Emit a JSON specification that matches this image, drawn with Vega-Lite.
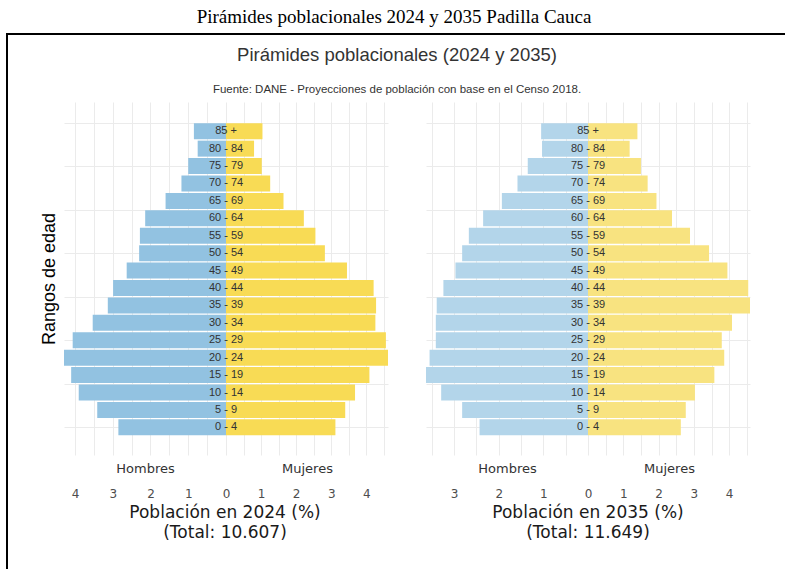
{
 "$schema": "https://vega.github.io/schema/vega-lite/v6.json",
 "padding": {"left": 6, "top": 8, "right": 0, "bottom": 0},
 "background": "white",
 "datasets": {
  "marco": [{}],
  "pob": [
   {"grupo":"0 - 4","orden":0,"anio":2024,"sexo":"Hombres","pct":2.85},
   {"grupo":"5 - 9","orden":1,"anio":2024,"sexo":"Hombres","pct":3.41},
   {"grupo":"10 - 14","orden":2,"anio":2024,"sexo":"Hombres","pct":3.90},
   {"grupo":"15 - 19","orden":3,"anio":2024,"sexo":"Hombres","pct":4.10},
   {"grupo":"20 - 24","orden":4,"anio":2024,"sexo":"Hombres","pct":4.29},
   {"grupo":"25 - 29","orden":5,"anio":2024,"sexo":"Hombres","pct":4.06},
   {"grupo":"30 - 34","orden":6,"anio":2024,"sexo":"Hombres","pct":3.53},
   {"grupo":"35 - 39","orden":7,"anio":2024,"sexo":"Hombres","pct":3.13},
   {"grupo":"40 - 44","orden":8,"anio":2024,"sexo":"Hombres","pct":2.99},
   {"grupo":"45 - 49","orden":9,"anio":2024,"sexo":"Hombres","pct":2.63},
   {"grupo":"50 - 54","orden":10,"anio":2024,"sexo":"Hombres","pct":2.30},
   {"grupo":"55 - 59","orden":11,"anio":2024,"sexo":"Hombres","pct":2.28},
   {"grupo":"60 - 64","orden":12,"anio":2024,"sexo":"Hombres","pct":2.14},
   {"grupo":"65 - 69","orden":13,"anio":2024,"sexo":"Hombres","pct":1.60},
   {"grupo":"70 - 74","orden":14,"anio":2024,"sexo":"Hombres","pct":1.18},
   {"grupo":"75 - 79","orden":15,"anio":2024,"sexo":"Hombres","pct":1.00},
   {"grupo":"80 - 84","orden":16,"anio":2024,"sexo":"Hombres","pct":0.75},
   {"grupo":"85 +","orden":17,"anio":2024,"sexo":"Hombres","pct":0.85},
   {"grupo":"0 - 4","orden":0,"anio":2024,"sexo":"Mujeres","pct":3.12},
   {"grupo":"5 - 9","orden":1,"anio":2024,"sexo":"Mujeres","pct":3.40},
   {"grupo":"10 - 14","orden":2,"anio":2024,"sexo":"Mujeres","pct":3.68},
   {"grupo":"15 - 19","orden":3,"anio":2024,"sexo":"Mujeres","pct":4.09},
   {"grupo":"20 - 24","orden":4,"anio":2024,"sexo":"Mujeres","pct":4.62},
   {"grupo":"25 - 29","orden":5,"anio":2024,"sexo":"Mujeres","pct":4.56},
   {"grupo":"30 - 34","orden":6,"anio":2024,"sexo":"Mujeres","pct":4.26},
   {"grupo":"35 - 39","orden":7,"anio":2024,"sexo":"Mujeres","pct":4.28},
   {"grupo":"40 - 44","orden":8,"anio":2024,"sexo":"Mujeres","pct":4.21},
   {"grupo":"45 - 49","orden":9,"anio":2024,"sexo":"Mujeres","pct":3.45},
   {"grupo":"50 - 54","orden":10,"anio":2024,"sexo":"Mujeres","pct":2.82},
   {"grupo":"55 - 59","orden":11,"anio":2024,"sexo":"Mujeres","pct":2.55},
   {"grupo":"60 - 64","orden":12,"anio":2024,"sexo":"Mujeres","pct":2.22},
   {"grupo":"65 - 69","orden":13,"anio":2024,"sexo":"Mujeres","pct":1.64},
   {"grupo":"70 - 74","orden":14,"anio":2024,"sexo":"Mujeres","pct":1.26},
   {"grupo":"75 - 79","orden":15,"anio":2024,"sexo":"Mujeres","pct":1.02},
   {"grupo":"80 - 84","orden":16,"anio":2024,"sexo":"Mujeres","pct":0.80},
   {"grupo":"85 +","orden":17,"anio":2024,"sexo":"Mujeres","pct":1.04},
   {"grupo":"0 - 4","orden":0,"anio":2035,"sexo":"Hombres","pct":2.43},
   {"grupo":"5 - 9","orden":1,"anio":2035,"sexo":"Hombres","pct":2.82},
   {"grupo":"10 - 14","orden":2,"anio":2035,"sexo":"Hombres","pct":3.29},
   {"grupo":"15 - 19","orden":3,"anio":2035,"sexo":"Hombres","pct":3.63},
   {"grupo":"20 - 24","orden":4,"anio":2035,"sexo":"Hombres","pct":3.55},
   {"grupo":"25 - 29","orden":5,"anio":2035,"sexo":"Hombres","pct":3.41},
   {"grupo":"30 - 34","orden":6,"anio":2035,"sexo":"Hombres","pct":3.41},
   {"grupo":"35 - 39","orden":7,"anio":2035,"sexo":"Hombres","pct":3.39},
   {"grupo":"40 - 44","orden":8,"anio":2035,"sexo":"Hombres","pct":3.24},
   {"grupo":"45 - 49","orden":9,"anio":2035,"sexo":"Hombres","pct":2.97},
   {"grupo":"50 - 54","orden":10,"anio":2035,"sexo":"Hombres","pct":2.82},
   {"grupo":"55 - 59","orden":11,"anio":2035,"sexo":"Hombres","pct":2.67},
   {"grupo":"60 - 64","orden":12,"anio":2035,"sexo":"Hombres","pct":2.35},
   {"grupo":"65 - 69","orden":13,"anio":2035,"sexo":"Hombres","pct":1.93},
   {"grupo":"70 - 74","orden":14,"anio":2035,"sexo":"Hombres","pct":1.58},
   {"grupo":"75 - 79","orden":15,"anio":2035,"sexo":"Hombres","pct":1.35},
   {"grupo":"80 - 84","orden":16,"anio":2035,"sexo":"Hombres","pct":1.03},
   {"grupo":"85 +","orden":17,"anio":2035,"sexo":"Hombres","pct":1.05},
   {"grupo":"0 - 4","orden":0,"anio":2035,"sexo":"Mujeres","pct":2.63},
   {"grupo":"5 - 9","orden":1,"anio":2035,"sexo":"Mujeres","pct":2.77},
   {"grupo":"10 - 14","orden":2,"anio":2035,"sexo":"Mujeres","pct":3.03},
   {"grupo":"15 - 19","orden":3,"anio":2035,"sexo":"Mujeres","pct":3.58},
   {"grupo":"20 - 24","orden":4,"anio":2035,"sexo":"Mujeres","pct":3.86},
   {"grupo":"25 - 29","orden":5,"anio":2035,"sexo":"Mujeres","pct":3.79},
   {"grupo":"30 - 34","orden":6,"anio":2035,"sexo":"Mujeres","pct":4.08},
   {"grupo":"35 - 39","orden":7,"anio":2035,"sexo":"Mujeres","pct":4.59},
   {"grupo":"40 - 44","orden":8,"anio":2035,"sexo":"Mujeres","pct":4.54},
   {"grupo":"45 - 49","orden":9,"anio":2035,"sexo":"Mujeres","pct":3.95},
   {"grupo":"50 - 54","orden":10,"anio":2035,"sexo":"Mujeres","pct":3.43},
   {"grupo":"55 - 59","orden":11,"anio":2035,"sexo":"Mujeres","pct":2.89},
   {"grupo":"60 - 64","orden":12,"anio":2035,"sexo":"Mujeres","pct":2.38},
   {"grupo":"65 - 69","orden":13,"anio":2035,"sexo":"Mujeres","pct":1.94},
   {"grupo":"70 - 74","orden":14,"anio":2035,"sexo":"Mujeres","pct":1.69},
   {"grupo":"75 - 79","orden":15,"anio":2035,"sexo":"Mujeres","pct":1.50},
   {"grupo":"80 - 84","orden":16,"anio":2035,"sexo":"Mujeres","pct":1.18},
   {"grupo":"85 +","orden":17,"anio":2035,"sexo":"Mujeres","pct":1.40}
  ]
 },
 "title": {"text": "Pirámides poblacionales 2024 y 2035 Padilla Cauca", "font": "Liberation Serif", "fontSize": 19, "fontWeight": "normal", "color": "#000000", "anchor": "middle", "offset": 6, "dx": -12},
 "hconcat": [
  {"data": {"name": "marco"}, "width": 2, "height": 545, "view": {"fill": "#000000", "stroke": null}, "mark": {"type": "rect", "color": "#000000"}, "encoding": {}},
  {
   "vconcat": [
    {"data": {"name": "marco"}, "width": 798, "height": 2, "view": {"fill": "#000000", "stroke": null}, "mark": {"type": "rect", "color": "#000000"}, "encoding": {},
     "title": {"text": "Pirámides poblacionales (2024 y 2035)", "subtitle": "Fuente: DANE - Proyecciones de población con base en el Censo 2018.", "orient": "bottom", "anchor": "middle", "offset": 11, "dx": -10, "font": "Liberation Sans", "fontSize": 18.5, "fontWeight": "normal", "color": "#333333", "subtitleFont": "Liberation Sans", "subtitleFontSize": 11.5, "subtitleColor": "#333333", "subtitlePadding": 19}},
    {
     "data": {"name": "pob"},
     "hconcat": [
      {
       "hconcat": [
        {
         "width": 162, "height": 353,
         "transform": [{"filter": "datum.anio == 2024 && datum.sexo == 'Hombres'"}],
         "mark": {"type": "bar", "orient": "horizontal", "size": 16, "color": "#92C2E1"},
         "encoding": {
          "x": {"field": "pct", "type": "quantitative", "scale": {"reverse": true, "nice": false, "zero": true},
                "axis": {"title": "Hombres", "values": [0,0.5,1,1.5,2,2.5,3,3.5,4], "labelExpr": "datum.value % 1 === 0 ? format(datum.value, 'd') : ''", "labelFlush": false, "labelOverlap": false, "titleY": 13, "titleBaseline": "middle", "labelPadding": 33}},
          "y": {"field": "orden", "type": "quantitative", "scale": {"domain": [-1.3, 18.39], "nice": false, "zero": false},
                "axis": {"values": [0,2.5,5,7.5,10,12.5,15,17.5], "labels": false, "title": "Rangos de edad", "titleFont": "Liberation Sans", "titleFontSize": 18, "titleColor": "#000000", "titlePadding": 6}}
         }
        },
        {
         "width": 162, "height": 353,
         "transform": [{"filter": "datum.anio == 2024 && datum.sexo == 'Mujeres'"}],
         "layer": [
          {
           "mark": {"type": "bar", "orient": "horizontal", "size": 16, "color": "#F8DB55"},
           "encoding": {
            "x": {"field": "pct", "type": "quantitative", "scale": {"nice": false, "zero": true},
                  "axis": {"title": "Mujeres", "values": [0.5,1,1.5,2,2.5,3,3.5,4,4.5], "labelExpr": "datum.value % 1 === 0 ? format(datum.value, 'd') : ''", "labelFlush": false, "labelOverlap": false, "titleY": 13, "titleBaseline": "middle", "labelPadding": 33}},
            "y": {"field": "orden", "type": "quantitative", "scale": {"domain": [-1.3, 18.39], "nice": false, "zero": false},
                  "axis": {"values": [0,2.5,5,7.5,10,12.5,15,17.5], "labels": false, "title": null}}
           }
          },
          {
           "mark": {"type": "text", "align": "center", "baseline": "middle", "font": "Liberation Sans", "fontSize": 11, "color": "#333333"},
           "encoding": {
            "x": {"datum": 0, "type": "quantitative",
                  "axis": {"title": "Mujeres", "values": [0.5,1,1.5,2,2.5,3,3.5,4,4.5], "labelExpr": "datum.value % 1 === 0 ? format(datum.value, 'd') : ''", "labelFlush": false, "labelOverlap": false, "titleY": 13, "titleBaseline": "middle", "labelPadding": 33}},
            "y": {"field": "orden", "type": "quantitative"},
            "text": {"field": "grupo"}
           }
          }
         ]
        }
       ],
       "spacing": 0,
       "bounds": "flush",
       "title": {"text": ["Población en 2024 (%)", "(Total: 10.607)"], "orient": "bottom", "anchor": "middle", "dx": 11, "font": "DejaVu Sans", "fontSize": 17, "fontWeight": "normal", "color": "#1A1A1A", "lineHeight": 20, "offset": 6}
      },
      {
       "hconcat": [
        {
         "width": 162, "height": 353,
         "transform": [{"filter": "datum.anio == 2035 && datum.sexo == 'Hombres'"}],
         "mark": {"type": "bar", "orient": "horizontal", "size": 16, "color": "#B3D5EA"},
         "encoding": {
          "x": {"field": "pct", "type": "quantitative", "scale": {"reverse": true, "nice": false, "zero": true},
                "axis": {"title": "Hombres", "values": [0,0.5,1,1.5,2,2.5,3,3.5], "labelExpr": "datum.value % 1 === 0 ? format(datum.value, 'd') : ''", "labelFlush": false, "labelOverlap": false, "titleY": 13, "titleBaseline": "middle", "labelPadding": 33}},
          "y": {"field": "orden", "type": "quantitative", "scale": {"domain": [-1.3, 18.39], "nice": false, "zero": false},
                "axis": {"values": [0,2.5,5,7.5,10,12.5,15,17.5], "labels": false, "title": null}}
         }
        },
        {
         "width": 162, "height": 353,
         "transform": [{"filter": "datum.anio == 2035 && datum.sexo == 'Mujeres'"}],
         "layer": [
          {
           "mark": {"type": "bar", "orient": "horizontal", "size": 16, "color": "#F8E380"},
           "encoding": {
            "x": {"field": "pct", "type": "quantitative", "scale": {"nice": false, "zero": true},
                  "axis": {"title": "Mujeres", "values": [0.5,1,1.5,2,2.5,3,3.5,4,4.5], "labelExpr": "datum.value % 1 === 0 ? format(datum.value, 'd') : ''", "labelFlush": false, "labelOverlap": false, "titleY": 13, "titleBaseline": "middle", "labelPadding": 33}},
            "y": {"field": "orden", "type": "quantitative", "scale": {"domain": [-1.3, 18.39], "nice": false, "zero": false},
                  "axis": {"values": [0,2.5,5,7.5,10,12.5,15,17.5], "labels": false, "title": null}}
           }
          },
          {
           "mark": {"type": "text", "align": "center", "baseline": "middle", "font": "Liberation Sans", "fontSize": 11, "color": "#333333"},
           "encoding": {
            "x": {"datum": 0, "type": "quantitative",
                  "axis": {"title": "Mujeres", "values": [0.5,1,1.5,2,2.5,3,3.5,4,4.5], "labelExpr": "datum.value % 1 === 0 ? format(datum.value, 'd') : ''", "labelFlush": false, "labelOverlap": false, "titleY": 13, "titleBaseline": "middle", "labelPadding": 33}},
            "y": {"field": "orden", "type": "quantitative"},
            "text": {"field": "grupo"}
           }
          }
         ]
        }
       ],
       "spacing": 0,
       "bounds": "flush",
       "title": {"text": ["Población en 2035 (%)", "(Total: 11.649)"], "orient": "bottom", "anchor": "middle", "font": "DejaVu Sans", "fontSize": 17, "fontWeight": "normal", "color": "#1A1A1A", "lineHeight": 20, "offset": 6}
      }
     ],
     "spacing": 38
    }
   ],
   "spacing": 7,
   "center": true
  }
 ],
 "spacing": 0,
 "config": {
  "view": {"stroke": null},
  "axis": {"domain": false, "ticks": false, "tickSize": 0, "gridColor": "#EBEBEB", "gridWidth": 1, "labelFont": "DejaVu Sans", "labelFontSize": 12, "labelColor": "#4D4D4D", "titleFont": "DejaVu Sans", "titleFontSize": 13, "titleFontWeight": "normal", "titleColor": "#333333"}
 }
}
